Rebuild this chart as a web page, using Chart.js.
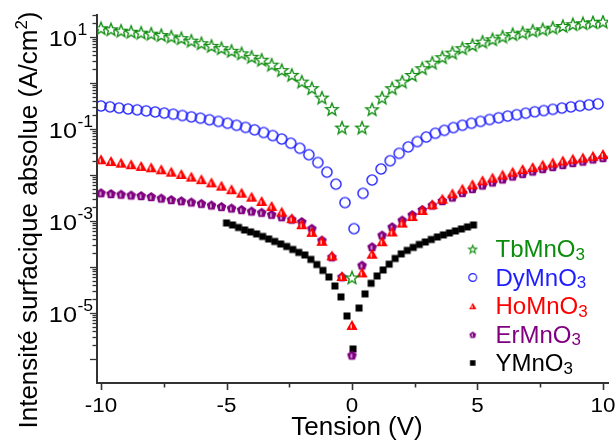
<!DOCTYPE html>
<html><head><meta charset="utf-8">
<script src="https://cdn.jsdelivr.net/npm/chart.js@4.4.1/dist/chart.umd.min.js"></script>
<style>html,body{margin:0;padding:0;background:#fff;}canvas{display:block;}</style>
</head><body>
<canvas id="c" width="615" height="444"></canvas>
<script>
// ---------- DATA ----------
const seriesNames = ['TbMnO', 'DyMnO', 'HoMnO', 'ErMnO', 'YMnO'];
const seriesColors = ['#0c8c0c', '#1e1eff', '#ff0000', '#800080', '#000000'];

const xStep04 = [-10,-9.6,-9.2,-8.8,-8.4,-8,-7.6,-7.2,-6.8,-6.4,-6,-5.6,-5.2,-4.8,-4.4,-4,-3.6,-3.2,-2.8,-2.4,-2,-1.6,-1.2,-0.8,-0.4,
  0,0.4,0.8,1.2,1.6,2,2.4,2.8,3.2,3.6,4,4.4,4.8,5.2,5.6,6,6.4,6.8,7.2,7.6,8,8.4,8.8,9.2,9.6,10];

const xDy = [-10,-9.64,-9.28,-8.92,-8.56,-8.2,-7.84,-7.48,-7.12,-6.76,-6.4,-6.04,-5.68,-5.32,-4.96,-4.6,-4.24,-3.88,-3.52,-3.16,-2.8,-2.44,-2.08,-1.72,-1.36,-1.0,-0.64,-0.28,0.08,
  0.44,0.8,1.16,1.52,1.88,2.24,2.6,2.96,3.32,3.68,4.04,4.4,4.76,5.12,5.48,5.84,6.2,6.56,6.92,7.28,7.64,8.0,8.36,8.72,9.08,9.44,9.8];

const xY = [-5,-4.76,-4.52,-4.28,-4.04,-3.8,-3.56,-3.32,-3.08,-2.84,-2.6,-2.36,-2.12,-1.88,-1.64,-1.4,-1.16,-0.92,-0.68,-0.44,-0.2,0.04,
  0.28,0.52,0.76,1.0,1.24,1.48,1.72,1.96,2.2,2.44,2.68,2.92,3.16,3.4,3.64,3.88,4.12,4.36,4.6,4.84];

const tbValues = [15.5,14.7,13.7,13.0,12.4,11.8,11.0,10.2,9.4,8.3,7.3,6.4,5.7,5.0,4.4,3.7,3.2,2.5,1.9,1.5,1.07,0.77,0.48,0.27,0.107,
  5.9e-5,
  0.107,0.268,0.479,0.767,1.07,1.49,2.09,2.76,3.62,4.56,5.68,6.70,7.9,8.9,10.2,11.5,12.4,13.7,14.7,15.9,17.3,18.9,19.9,20.9,21.5];

const dyValues = [0.316,0.302,0.285,0.272,0.260,0.247,0.234,0.221,0.209,0.196,0.183,0.171,0.158,0.146,0.133,0.120,0.108,0.0955,0.0836,0.0716,0.0603,0.0490,0.0380,0.0275,0.0186,0.0115,0.0063,0.00251,0.00068,
  0.00398,0.00776,0.0135,0.0204,0.0295,0.0407,0.0531,0.0668,0.0804,0.0933,0.107,0.120,0.133,0.146,0.160,0.175,0.190,0.204,0.220,0.236,0.251,0.267,0.284,0.301,0.318,0.334,0.351];

const hoValues = [0.0219,0.0201,0.0185,0.0171,0.0157,0.0147,0.0133,0.0118,0.0105,0.0092,0.0081,0.0069,0.00585,0.00489,0.00412,0.00337,0.00272,0.00212,0.00159,0.00115,0.00085,0.00058,0.00037,0.000178,0.0000637,
  5.5e-6,
  7.6e-5,1.94e-4,3.62e-4,5.9e-4,9.2e-4,1.28e-3,1.73e-3,2.31e-3,3.05e-3,4.0e-3,5.04e-3,6.28e-3,7.67e-3,8.8e-3,0.0102,0.0118,0.0135,0.0149,0.0168,0.0187,0.0207,0.0226,0.0240,0.0261,0.0286];

const erValues = [4.12e-3,3.96e-3,3.83e-3,3.68e-3,3.58e-3,3.41e-3,3.16e-3,2.93e-3,2.76e-3,2.59e-3,2.42e-3,2.23e-3,2.07e-3,1.92e-3,1.78e-3,1.65e-3,1.55e-3,1.40e-3,1.24e-3,1.10e-3,9.75e-4,6.94e-4,3.86e-4,1.67e-4,6.15e-5,
  1.22e-6,
  1.10e-4,2.76e-4,4.97e-4,7.52e-4,1.05e-3,1.38e-3,1.78e-3,2.23e-3,2.79e-3,3.32e-3,4.17e-3,5.09e-3,6.06e-3,7.05e-3,8.2e-3,9.5e-3,0.0108,0.0122,0.0138,0.0153,0.0169,0.0187,0.0201,0.0223,0.0240];

const yValues = [9.05e-4,8.18e-4,7.22e-4,6.37e-4,5.77e-4,5.22e-4,4.60e-4,4.06e-4,3.58e-4,3.16e-4,2.79e-4,2.40e-4,2.07e-4,1.82e-4,1.46e-4,1.13e-4,8.4e-5,6.06e-5,3.86e-5,2.23e-5,8.6e-6,1.65e-6,
  1.28e-5,2.59e-5,4.42e-5,6.37e-5,8.6e-5,1.15e-4,1.53e-4,1.92e-4,2.29e-4,2.66e-4,3.08e-4,3.49e-4,3.96e-4,4.49e-4,4.97e-4,5.48e-4,6.06e-4,6.70e-4,7.41e-4,8.18e-4];

const xTickValues = [-10, -5, 0, 5, 10];
const xTickLabels = ['-10', '-5', '0', '5', '10'];
const xMinorTickValues = [-7.5, -2.5, 2.5, 7.5];
const yLabelExponents = [1, -1, -3, -5];
const yDecadeExponents = [-6, -5, -4, -3, -2, -1, 0, 1];
const xTitle = 'Tension (V)';
const yTitleMain = 'Intensité surfacique absolue (A/cm';
const yTitleSup = '2';
const yTitleEnd = ')';

// ---------- MARKERS ----------
const FONT = '"Liberation Sans", Arial, sans-serif';
function makeCanvas(size, draw) {
  const c = document.createElement('canvas'); c.width = size; c.height = size;
  draw(c.getContext('2d'), size / 2); return c;
}
function starMarker(size, ro, ri, color, lw) {
  return makeCanvas(size, (g, c) => {
    g.beginPath();
    for (let i = 0; i < 10; i++) {
      const r = i % 2 ? ri : ro; const a = -Math.PI / 2 + i * Math.PI / 5;
      const px = c + r * Math.cos(a), py = c + 0.6 + r * Math.sin(a);
      i ? g.lineTo(px, py) : g.moveTo(px, py);
    }
    g.closePath(); g.strokeStyle = color; g.lineWidth = lw; g.lineJoin = 'miter'; g.stroke();
  });
}
function circleMarker(size, r, color, lw) {
  return makeCanvas(size, (g, c) => {
    g.beginPath(); g.arc(c, c, r, 0, Math.PI * 2); g.strokeStyle = color; g.lineWidth = lw; g.stroke();
  });
}
function triMarker(size, h, color) {
  return makeCanvas(size, (g, c) => {
    const w = h * 1.12;
    g.beginPath(); g.moveTo(c, c - h / 2); g.lineTo(c + w / 2, c + h / 2); g.lineTo(c - w / 2, c + h / 2); g.closePath();
    g.fillStyle = color; g.fill();
    g.beginPath(); g.moveTo(c - 0.8, c - h * 0.05); g.lineTo(c - 0.8, c + h * 0.36);
    g.strokeStyle = '#fff'; g.lineWidth = Math.max(1, h * 0.12); g.stroke();
  });
}
function pentaMarker(size, r, color) {
  return makeCanvas(size, (g, c) => {
    g.beginPath();
    for (let i = 0; i < 5; i++) {
      const a = -Math.PI / 2 + i * 2 * Math.PI / 5;
      const px = c + r * Math.cos(a), py = c + 0.5 + r * Math.sin(a);
      i ? g.lineTo(px, py) : g.moveTo(px, py);
    }
    g.closePath(); g.fillStyle = color; g.fill();
    g.beginPath(); g.moveTo(c - 0.6, c - r * 0.2); g.lineTo(c - 0.6, c + r * 0.6);
    g.strokeStyle = '#fff'; g.lineWidth = Math.max(1, r * 0.22); g.stroke();
  });
}
function squareMarker(size, s, color) {
  return makeCanvas(size, (g, c) => { g.fillStyle = color; g.fillRect(c - s / 2, c - s / 2, s, s); });
}

const plotMarkers = [
  starMarker(16, 6.6, 2.8, seriesColors[0], 1.3),
  circleMarker(14, 5.1, seriesColors[1], 1.4),
  triMarker(14, 10, seriesColors[2]),
  pentaMarker(13, 5.1, seriesColors[3]),
  squareMarker(10, 7, seriesColors[4])
];
const legendMarkers = [
  starMarker(11, 4.3, 1.8, seriesColors[0], 1.1),
  circleMarker(11, 3.9, seriesColors[1], 1.2),
  triMarker(10, 6.5, seriesColors[2]),
  pentaMarker(10, 3.6, seriesColors[3]),
  squareMarker(8, 5.5, seriesColors[4])
];

function toPts(xs, ys) { return xs.map((x, i) => ({ x: x, y: ys[i] })); }
const seriesX = [xStep04, xDy, xStep04, xStep04, xY];
const seriesY = [tbValues, dyValues, hoValues, erValues, yValues];

// ---------- TEXT HELPERS ----------
function drawRich(ctx, parts, x, y, align, sx, color) {
  let total = 0;
  const widths = parts.map(p => { ctx.font = p.size + 'px ' + FONT; const w = ctx.measureText(p.text).width; total += w; return w; });
  const start = align === 'center' ? x - total * sx / 2 : (align === 'right' ? x - total * sx : x);
  ctx.save(); ctx.translate(start, y); ctx.scale(sx, 1);
  ctx.textAlign = 'left'; ctx.textBaseline = 'alphabetic';
  let cx = 0;
  parts.forEach((p, i) => { ctx.font = p.size + 'px ' + FONT; ctx.fillStyle = p.color || color; ctx.fillText(p.text, cx, p.dy || 0); cx += widths[i]; });
  ctx.restore();
}

const AXIS_COLOR = '#333333';
const decorPlugin = {
  id: 'decor',
  afterDraw(chart) {
    const ctx = chart.ctx, xs = chart.scales.x, ys = chart.scales.y, area = chart.chartArea;
    ctx.save();
    ctx.strokeStyle = AXIS_COLOR; ctx.lineWidth = 1.6;
    const xb = area.bottom + 1;
    xTickValues.forEach(v => { const p = Math.round(xs.getPixelForValue(v)) + 0.5; ctx.beginPath(); ctx.moveTo(p, xb); ctx.lineTo(p, xb + 6); ctx.stroke(); });
    xMinorTickValues.forEach(v => { const p = Math.round(xs.getPixelForValue(v)) + 0.5; ctx.beginPath(); ctx.moveTo(p, xb); ctx.lineTo(p, xb + 3.5); ctx.stroke(); });
    const yl = area.left - 1;
    ctx.lineWidth = 1.3;
    yDecadeExponents.forEach(e => {
      const base = Math.pow(10, e);
      [1,2,3,4,5,6,7,8,9].forEach(k => {
        const v = k * base;
        if (v < ys.min * 0.999 || v > ys.max * 1.001) return;
        const p = Math.round(ys.getPixelForValue(v)) + 0.5;
        ctx.beginPath(); ctx.moveTo(yl, p); ctx.lineTo(yl - (k === 1 ? 6 : 3.5), p); ctx.stroke();
      });
    });
    xTickValues.forEach((v, i) => {
      drawRich(ctx, [{ text: xTickLabels[i], size: 20 }], xs.getPixelForValue(v), 411.5, 'center', 1.12, '#000');
    });
    yLabelExponents.forEach(e => {
      const p = ys.getPixelForValue(Math.pow(10, e));
      drawRich(ctx, [{ text: '10', size: 22 }], 77, p + 9.5, 'right', 1.15, '#000');
      drawRich(ctx, [{ text: String(e), size: 16 }], 77.5, p - 1.5, 'left', 1.1, '#000');
    });
    drawRich(ctx, [{ text: xTitle, size: 26 }], 357, 435, 'center', 1.0, '#000');
    ctx.save(); ctx.translate(37, 220); ctx.rotate(-Math.PI / 2);
    drawRich(ctx, [{ text: yTitleMain, size: 26 }, { text: yTitleSup, size: 17, dy: -10 }, { text: yTitleEnd, size: 26 }], 0, 0, 'center', 1.0, '#000');
    ctx.restore();
    const rows = [249, 277.5, 306, 334.5, 363];
    seriesNames.forEach((n, i) => {
      const m = legendMarkers[i];
      ctx.drawImage(m, 472.7 - m.width / 2, rows[i] - m.height / 2);
      drawRich(ctx, [{ text: n, size: 24 }, { text: '3', size: 17, dy: 2.5 }], 495.5, rows[i] + 8, 'left', 1.0, seriesColors[i]);
    });
    ctx.restore();
  }
};

const datasets = seriesNames.map((n, i) => ({
  label: n + '3',
  data: toPts(seriesX[i], seriesY[i]),
  showLine: false,
  pointStyle: plotMarkers[i],
  pointRadius: 5,
  pointHoverRadius: 5,
  borderWidth: 0
}));

new Chart(document.getElementById('c'), {
  type: 'scatter',
  data: { datasets: datasets },
  options: {
    responsive: false, animation: false, devicePixelRatio: 1,
    layout: { padding: { left: 0, top: 15, right: 7, bottom: 0 } },
    plugins: { legend: { display: false }, tooltip: { enabled: false } },
    events: [],
    scales: {
      x: {
        type: 'linear', min: -10.16, max: 10.2,
        ticks: { display: false }, grid: { display: false },
        border: { display: true, color: AXIS_COLOR, width: 2 },
        afterFit: s => { s.height = 61; }
      },
      y: {
        type: 'logarithmic', min: 3e-7, max: 30,
        ticks: { display: false }, grid: { display: false },
        border: { display: true, color: AXIS_COLOR, width: 2 },
        afterFit: s => { s.width = 97; }
      }
    }
  },
  plugins: [decorPlugin]
});
</script>
</body></html>
